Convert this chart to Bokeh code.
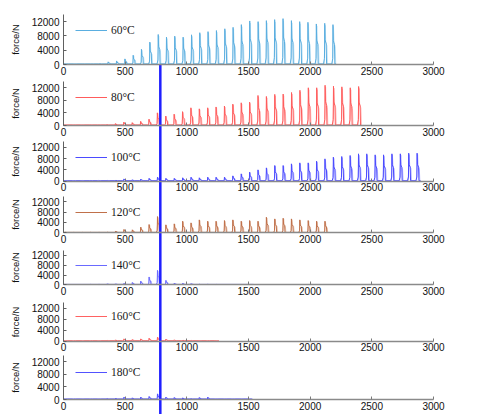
from bokeh.plotting import figure
from bokeh.models import Legend, LegendItem, FixedTicker, Range1d, LinearAxis
from bokeh.embed import file_html
from bokeh.resources import INLINE

# ---------------- data ----------------
series_labels = ["60°C", "80°C", "100°C", "120°C", "140°C", "160°C", "180°C"]
x_ticks = [0, 500, 1000, 1500, 2000, 2500, 3000]
y_ticks = [0, 4000, 8000, 12000]
marker_x = 785  # vertical blue reference line

pos_60 = [25, 92, 160, 228, 295, 362, 430, 498, 565, 632, 700, 768, 835, 902, 970, 1038, 1105,
          1172, 1240, 1308, 1375, 1442, 1510, 1578, 1645, 1712, 1780, 1848, 1915, 1982, 2050,
          2118, 2185]
force_60 = [150, 150, 200, 200, 280, 740, 1000, 1570, 2590, 4250, 6280, 8400, 7660, 7940, 7660,
            8310, 8900, 9200, 9500, 10000, 10400, 11160, 12190, 12000, 12280, 12560, 12840,
            12280, 12000, 11810, 11350, 11530, 11160]
end_60 = 2210

pos_80 = [13, 81, 149, 217, 285, 353, 421, 489, 557, 625, 693, 761, 829, 897, 965, 1033, 1101,
          1169, 1237, 1305, 1373, 1441, 1509, 1577, 1645, 1713, 1781, 1849, 1917, 1985, 2053,
          2121, 2189, 2257, 2325, 2393]
force_80 = [150, 150, 150, 200, 200, 300, 600, 1060, 900, 1300, 2000, 4030, 3000, 3600, 4400,
            5630, 5300, 5630, 5900, 6200, 6800, 7220, 7430, 9550, 9240, 9900, 10000, 10500,
            11200, 12000, 12000, 12800, 12500, 12300, 12000, 12400]
end_80 = 2410

pos_100 = [15, 83, 151, 219, 287, 355, 422, 490, 558, 626, 694, 762, 830, 898, 966, 1034, 1101,
           1169, 1237, 1305, 1373, 1441, 1509, 1577, 1645, 1713, 1781, 1848, 1916, 1984, 2052,
           2120, 2188, 2256, 2324, 2392, 2459, 2527, 2595, 2663, 2731, 2799, 2867]
force_100 = [200, 200, 200, 250, 250, 300, 400, 800, 500, 700, 1000, 1400, 1000, 1000, 1200,
             1400, 1200, 1400, 1400, 1400, 1880, 2590, 3180, 4000, 4700, 5530, 5530, 6120, 6470,
             6470, 7060, 7880, 8470, 8700, 9060, 9650, 9650, 9290, 9290, 9650, 9650, 9880, 9880]
end_100 = 2895

pos_120 = [15, 83, 151, 219, 287, 355, 422, 490, 558, 626, 694, 762, 830, 898, 966, 1034, 1101,
           1169, 1237, 1305, 1373, 1441, 1509, 1577, 1645, 1713, 1781, 1848, 1916, 1984, 2052,
           2120]
force_120 = [200, 200, 200, 250, 250, 300, 700, 1280, 1150, 2170, 3190, 6260, 3070, 3450, 4470,
             3830, 4980, 4470, 4470, 4730, 4980, 4470, 4730, 4470, 6000, 5360, 5620, 5360, 4980,
             4730, 4470, 4470]
end_120 = 2141

pos_140 = [15, 83, 151, 219, 287, 355, 422, 490, 558, 626, 694, 762, 830, 898, 966, 1034, 1101,
           1169, 1237, 1305, 1373, 1441, 1509]
force_140 = [150, 150, 150, 200, 250, 400, 400, 600, 940, 1500, 3200, 5900, 1800, 700, 650, 500,
             250, 250, 200, 150, 150, 150, 100]
end_140 = 1540

pos_160 = [15, 83, 151, 219, 287, 355, 422, 490, 558, 626, 694, 762, 830, 898, 966, 1034, 1101,
           1169, 1237]
force_160 = [100, 100, 100, 150, 150, 300, 480, 840, 600, 840, 1080, 1440, 720, 480, 400, 300,
             200, 150, 100]
end_160 = 1260

pos_180 = [15, 83, 151, 219, 287, 355, 422, 490, 558, 626, 694, 762, 830, 898, 966, 1034, 1101,
           1169, 1237, 1305, 1373, 1441, 1509]
force_180 = [100, 100, 150, 150, 200, 300, 420, 740, 530, 740, 950, 1790, 740, 630, 530, 300, 630,
             740, 200, 150, 150, 150, 100]
end_180 = 1530

all_pos = [pos_60, pos_80, pos_100, pos_120, pos_140, pos_160, pos_180]
all_force = [force_60, force_80, force_100, force_120, force_140, force_160, force_180]
all_end = [end_60, end_80, end_100, end_120, end_140, end_160, end_180]

# ---------------- styles / layout ----------------
dark_colors = ["#5aaee0", "#ff5c5c", "#4b4bff", "#c0704a", "#6a6aff", "#ff6262", "#5252ff"]
light_colors = ["#bfe2f5", "#ffb5b5", "#b5b5ff", "#e6c0aa", "#c2c2ff", "#ffbaba", "#babaff"]
# panel baseline / top positions (page pixels)
panel_base = [64, 125, 180.7, 232.3, 284.3, 340.7, 399]
panel_top = [14, 81, 141, 196, 250, 302, 355]
legend_cy = [30, 96.7, 156.7, 211.7, 265, 316, 371.7]   # legend centre, page px
W, H = 478, 414
AX_L, AX_R = 63, 433     # page px of x = 0 and x = 3000
X_MAX = 3000
Y_MAX = 14000
BASE = 150


def trace(pos, hts, end):
    xd, yd, xl, yl = [0], [BASE], [0], [BASE]
    for p, h in zip(pos, hts):
        xd += [p - 10, p - 2, p, p + 3, p + 12, p + 15]
        yd += [BASE, max(BASE, 0.15 * h), h, max(BASE, 0.6 * h), max(BASE, 0.5 * h), BASE]
        xl += [p - 4, p + 4, p + 8, p + 18, p + 22]
        yl += [BASE, max(BASE, 0.95 * h), max(BASE, 0.55 * h), max(BASE, 0.45 * h), BASE]
    xd.append(end); yd.append(BASE)
    xl.append(end); yl.append(BASE)
    return xd, yd, xl, yl


ux = X_MAX / (AX_R - AX_L)
p = figure(width=W, height=H, output_backend="svg", toolbar_location=None,
           x_range=Range1d(-AX_L * ux, (W - AX_L) * ux), y_range=Range1d(0, H),
           x_axis_location=None, y_axis_location=None, min_border=0)
p.outline_line_color = None
p.grid.visible = False

ranges = {}
for i in range(7):
    yb = H - panel_base[i]
    yt = H - panel_top[i]
    k = Y_MAX / (yt - yb)
    ranges[f"p{i}"] = Range1d(-yb * k, (H - yb) * k)
p.extra_y_ranges = ranges

for i, lab in enumerate(series_labels):
    name = f"p{i}"
    xd, yd, xl, yl = trace(all_pos[i], all_force[i], all_end[i])
    p.line(xl, yl, color=light_colors[i], line_width=1, y_range_name=name)
    r = p.line(xd, yd, color=dark_colors[i], line_width=1, y_range_name=name)
    rends = [r]
    if lab == "80°C":
        rends.append(p.scatter(x=[], y=[], size=4, color="#ff1010", marker="circle",
                               y_range_name=name))

    leg = Legend(items=[LegendItem(label=lab, renderers=rends)],
                 location=(75, H - legend_cy[i] - 6),
                 padding=0, margin=0, spacing=0, glyph_width=32, glyph_height=12,
                 label_height=12, label_standoff=4, border_line_color=None,
                 background_fill_alpha=0, label_text_font="Liberation Serif",
                 label_text_font_size="11.5px", label_text_color="#1a1a1a")
    p.add_layout(leg)

    xa = LinearAxis(y_range_name=name, fixed_location=0, bounds=(0, X_MAX),
                    ticker=FixedTicker(ticks=x_ticks))
    xa.major_tick_in = 3
    xa.major_tick_out = 0
    xa.minor_tick_in = 0
    xa.minor_tick_out = 0
    xa.axis_line_color = "#8a8a8a"
    xa.axis_line_width = 1.5
    xa.major_tick_line_color = "#7a7a7a"
    xa.major_label_text_font = "Liberation Sans"
    xa.major_label_text_font_size = "10px"
    xa.major_label_text_color = "#111111"
    xa.major_label_standoff = 2
    p.add_layout(xa, "below")

    ya = LinearAxis(y_range_name=name, fixed_location=0, bounds=(0, Y_MAX),
                    ticker=FixedTicker(ticks=y_ticks), axis_label="force/N")
    ya.major_tick_in = 3
    ya.major_tick_out = 0
    ya.minor_tick_in = 0
    ya.minor_tick_out = 0
    ya.axis_line_color = "#606060"
    ya.major_tick_line_color = "#606060"
    ya.major_label_text_font = "Liberation Sans"
    ya.major_label_text_font_size = "10px"
    ya.major_label_text_color = "#111111"
    ya.major_label_standoff = 4
    ya.axis_label_text_font = "Liberation Sans"
    ya.axis_label_text_font_style = "normal"
    ya.axis_label_text_font_size = "9.5px"
    ya.axis_label_text_color = "#111111"
    ya.axis_label_standoff = 8
    p.add_layout(ya, "left")

# vertical blue reference line from the first panel's baseline to the bottom
p.segment(x0=[marker_x], y0=[0], x1=[marker_x], y1=[ranges["p0"].start],
          line_color="#1f1fff", line_width=2.5, y_range_name="p0")

open("out.html", "w").write(file_html(p, INLINE))
